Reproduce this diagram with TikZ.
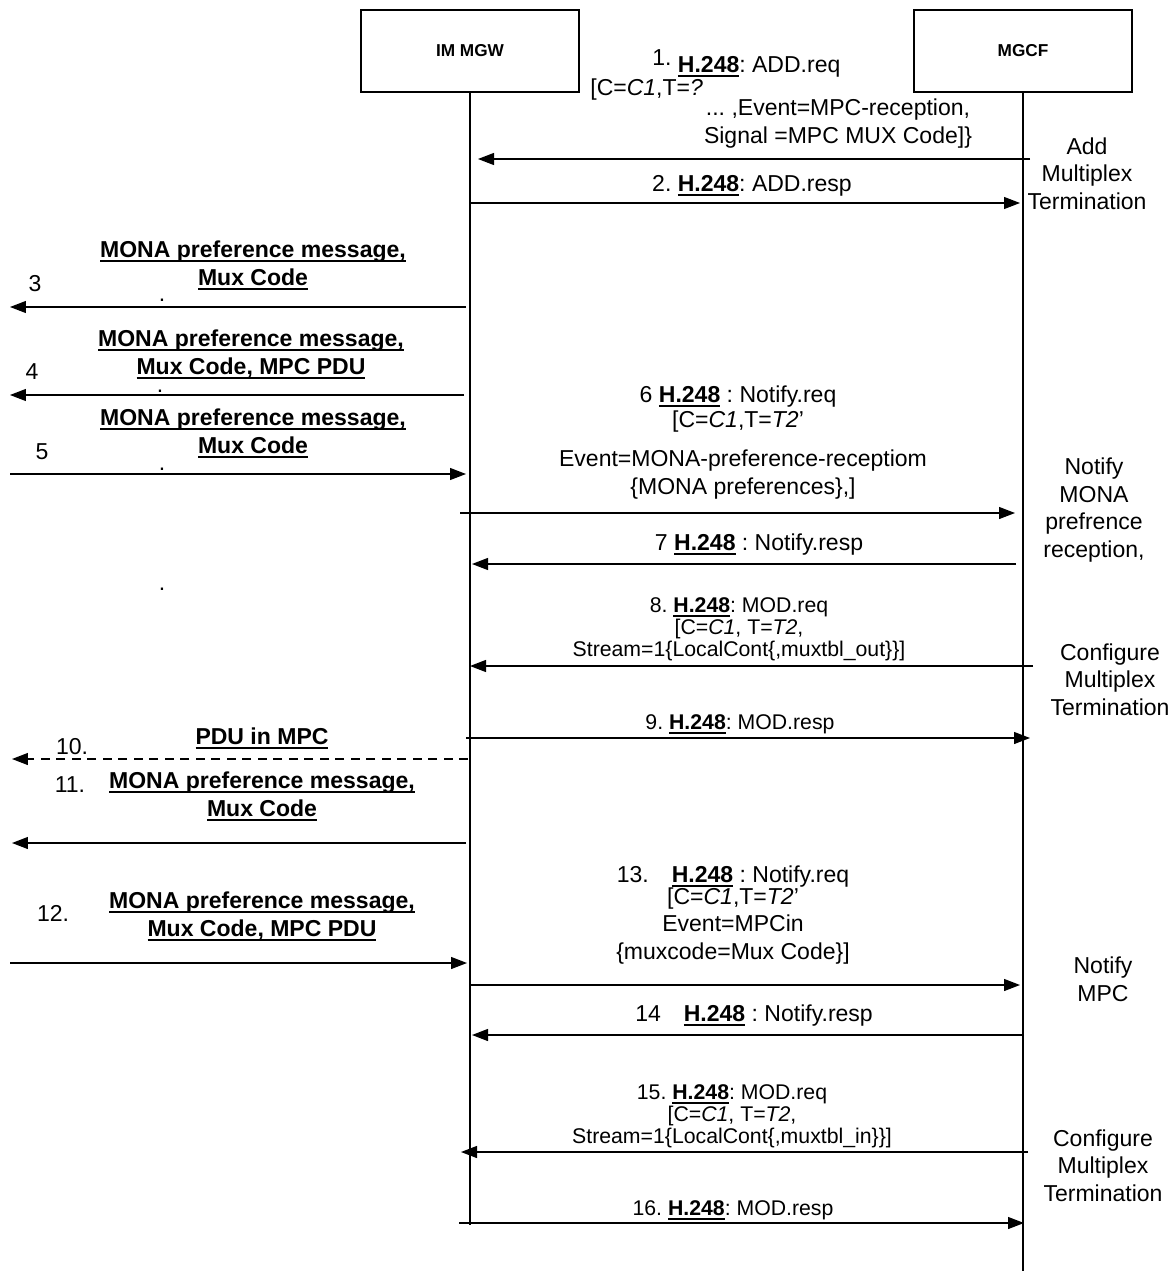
\documentclass[tikz,border=0pt]{standalone}
\usepackage{fontspec}
\setmainfont{Liberation Sans}
\usetikzlibrary{arrows.meta}
\frenchspacing
\newsavebox{\ulsave}
\newcommand{\ulbox}[1]{\sbox{\ulsave}{#1}\rlap{\rule[-2.6pt]{\wd\ulsave}{1.1pt}}\usebox{\ulsave}}
\newcommand{\Hmsg}{\ulbox{\textbf{H.248}}}
\newcommand{\Cone}{\textit{C1}}
\newcommand{\Ttwo}{\textit{T2}}

\begin{document}
\begin{tikzpicture}[
  x=0.02cm, y=-0.02cm,
  >={Triangle[length=0.32cm,width=0.24cm]},
  %% Entity boxes on top
  entity/.style={draw,line width=0.7pt,minimum width=4.36cm,minimum height=1.64cm,
                 font=\fontsize{9.8}{11}\selectfont\bfseries},
  %% Lifelines and signals
  lifeline/.style={line width=0.8pt},
  sig/.style={->,line width=0.7pt},
  dsig/.style={sig,dash pattern=on 0.18cm off 0.13cm},
  %% Texts (base = last line)
  txt/.style={align=center,inner sep=0pt,anchor=base,font=\fontsize{13.1}{15.6}\selectfont},
  modtxt/.style={txt,font=\fontsize{12.1}{12.3}\selectfont},
  monatxt/.style={txt,font=\fontsize{13.1}{15.6}\selectfont\bfseries},
  dotmark/.style={txt,text height=2pt,text depth=0pt}
]
\useasboundingbox (0,0) rectangle (1176,1271);

%% ---- ENTITIES ----
\node[entity] (mgw)  at (470,51)  {IM MGW};
\node[entity] (mgcf) at (1023,51) {MGCF};
\coordinate (mgwend)  at (470,1225);
\coordinate (mgcfend) at (1023,1271);
\draw[lifeline] (mgw.south)  -- (mgwend);
\draw[lifeline] (mgcf.south) -- (mgcfend);

%% ---- SIGNALS ----
\foreach \n/\y/\xa/\xb in {1/159/1030/478, 2/203/470/1020, 3/307/466/10,
    4/395/464/10, 5/474/10/466, 6/513/460/1015, 7/564/1016/472,
    8/666/1033/470, 9/738/466/1030, 11/843/466/12, 12/963/10/467,
    13/985/470/1020, 14/1035/1024/472, 15/1152/1028/461, 16/1223/459/1024}{
  \coordinate (s\n) at (\xa,\y);
  \coordinate (e\n) at (\xb,\y);
  \draw[sig] (s\n) -- (e\n);
}
\coordinate (s10) at (468,759);
\coordinate (e10) at (12,759);
\draw[dsig] (s10) -- (e10);

%% ---- H.248 LABELS ----
\node[txt,anchor=base west] (req1a) at (652,72) {\raisebox{0.5ex}{1.} \Hmsg: ADD.req};
\node[txt,anchor=base west] (req1b) at (590,95) {[C=\Cone,T=\textit{?}};
\node[txt] (req1c) at (838,143) {... ,Event=MPC-reception,\\Signal =MPC MUX Code]\}};
\node[txt] (resp2) at (752,191) {2. \Hmsg: ADD.resp};
\node[txt] (req6a) at (738,427) {6 \Hmsg{} : Notify.req\\[-1.5pt]{[}C=\Cone,T=\Ttwo’};
\node[txt] (req6b) at (743,494) {Event=MONA-preference-receptiom\\\{MONA preferences\},]};
\node[txt] (resp7) at (759,550) {7 \Hmsg{} : Notify.resp};
\node[modtxt] (req8) at (739,656) {8. \Hmsg: MOD.req\\{[}C=\Cone, T=\Ttwo,\\Stream=1\{LocalCont\{,muxtbl\_out\}\}]};
\node[modtxt] (resp9) at (740,729) {9. \Hmsg: MOD.resp};
\node[txt] (req13) at (733,959) {13.\quad\Hmsg{} : Notify.req\\[-2.9pt]{[}C=\Cone,T=\Ttwo’\\[-0.4pt]Event=MPCin\\\{muxcode=Mux Code\}]};
\node[txt] (resp14) at (754,1021) {14\quad\Hmsg{} : Notify.resp};
\node[modtxt] (req15) at (732,1143) {15. \Hmsg: MOD.req\\{[}C=\Cone, T=\Ttwo,\\Stream=1\{LocalCont\{,muxtbl\_in\}\}]};
\node[modtxt] (resp16) at (733,1215) {16. \Hmsg: MOD.resp};

%% ---- SIDE NOTES ----
\node[txt] (noteadd) at (1087,209)  {Add\\Multiplex\\Termination};
\node[txt] (notemona) at (1094,557) {Notify\\MONA\\prefrence\\reception,};
\node[txt] (noteconf) at (1110,715) {Configure\\Multiplex\\Termination};
\node[txt] (notempc) at (1103,1001) {Notify\\MPC};
\node[txt] (noteconf2) at (1103,1201) {Configure\\Multiplex\\Termination};

%% ---- MONA MESSAGES (left) ----
\node[monatxt] (mona3) at (253,285) {\ulbox{MONA preference message,}\\\ulbox{Mux Code}};
\node[monatxt] (mona4) at (251,374) {\ulbox{MONA preference message,}\\\ulbox{Mux Code, MPC PDU}};
\node[monatxt] (mona5) at (253,453) {\ulbox{MONA preference message,}\\\ulbox{Mux Code}};
\node[monatxt] (pdu10) at (262,744) {\ulbox{PDU in MPC}};
\node[monatxt] (mona11) at (262,816) {\ulbox{MONA preference message,}\\\ulbox{Mux Code}};
\node[monatxt] (mona12) at (262,936) {\ulbox{MONA preference message,}\\\ulbox{Mux Code, MPC PDU}};

\node[txt] (num3) at (35,291) {3};
\node[txt] (num4) at (32,379) {4};
\node[txt] (num5) at (42,459) {5};
\node[txt] (num10) at (72,754) {10.};
\node[txt] (num11) at (70,792) {11.};
\node[txt] (num12) at (53,921) {12.};

\node[dotmark] (dot3) at (162,301) {.};
\node[dotmark] (dot4) at (160,392) {.};
\node[dotmark] (dot5) at (162,470) {.};
\node[dotmark] (dot7) at (162,590) {.};

\end{tikzpicture}
\end{document}
